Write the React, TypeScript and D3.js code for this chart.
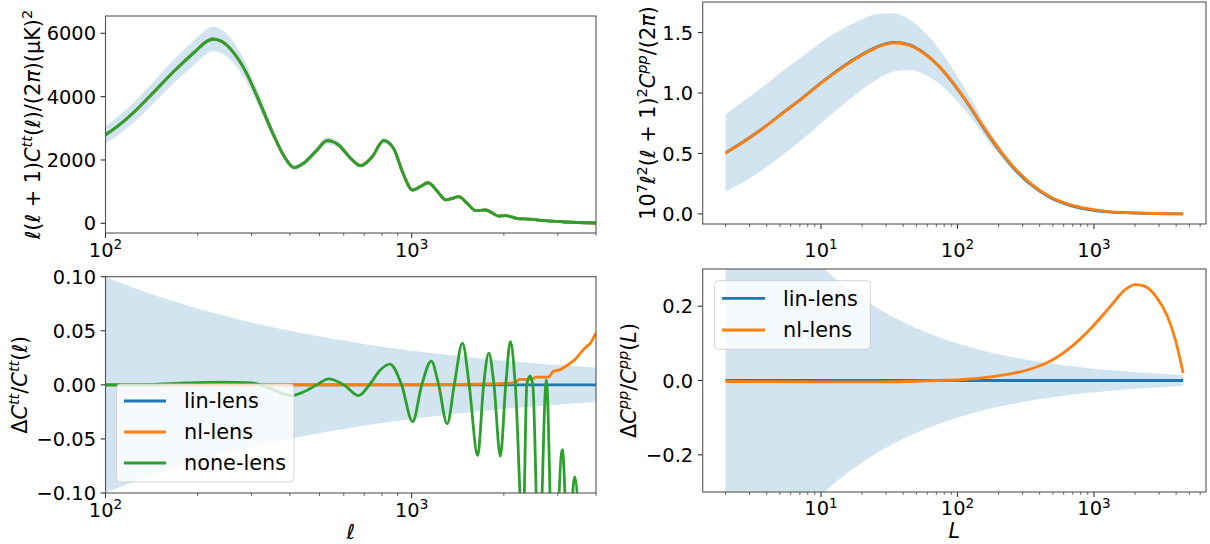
import React from 'react';
import * as d3 from 'd3';

// Lensed temperature spectrum D_ell = ell(ell+1)C_ell/2pi in muK^2
const TT_ELL = [100,109,126,146,169,196,214,224,240,263,287,313,352,384,413,444,485,530,578,632,681,743,810,872,937,1006,1067,1131,1216,1292,1360,1424,1518,1619,1680,1746,1830,1919,2034,2120,2221,2354,2727,3158,4000];
const TT_DL = [2790,3050,3580,4210,4840,5420,5740,5820,5740,5370,4790,4000,2840,2100,1760,1900,2260,2610,2470,2050,1820,2100,2610,2370,1580,1050,1160,1280,1000,740,790,840,630,400,410,420,330,230,240,200,150,137,84,42,10];
// Fractional cosmic-variance half width at each TT multipole
const TT_SIGMA = [0.0998,0.0956,0.0889,0.0826,0.0768,0.0713,0.0683,0.0667,0.0645,0.0616,0.0590,0.0565,0.0533,0.0510,0.0492,0.0474,0.0454,0.0434,0.0416,0.0398,0.0383,0.0367,0.0351,0.0339,0.0327,0.0315,0.0306,0.0297,0.0287,0.0278,0.0271,0.0265,0.0257,0.0249,0.0244,0.0239,0.0234,0.0228,0.0222,0.0217,0.0212,0.0206,0.0191,0.0178,0.0158];

// Fractional TT differences relative to lin-lens
const LIN_TT_ELL = [100, 4000];
const LIN_TT_DELTA = [0, 0];
const NL_TT_ELL = [100,1000,1500,1900,2100,2180,2240,2430,2560,2810,2895,3060,3250,3420,3650,3840,4000];
const NL_TT_DELTA = [0,0,0.0005,0.001,0.0015,0.002,0.005,0.005,0.0072,0.0072,0.0125,0.014,0.0188,0.0235,0.033,0.0386,0.048];
const NONE_TT_ELL = [100,140,183,240,302,350,403,440,490,535,601,670,728,791,849,927,1007,1079,1159,1225,1306,1378,1465,1541,1643,1718,1786,1857,1948,2029,2102,2180,2310,2377,2436,2487,2604,2754,2905,3104,3249,3404,3700,4000];
const NONE_TT_DELTA = [0,0.0005,0.0018,0.0025,0.0018,-0.004,-0.010,-0.007,0,0.0056,0,-0.0099,0,0.0139,0.0191,0,-0.034,0,0.022,0,-0.036,0,0.0386,0,-0.0654,0,0.0293,0,-0.066,0,0.040,0,-0.14,0,0.0083,0,-0.17,0.0046,-0.20,-0.060,-0.16,-0.085,-0.25,-0.3];

// Lensing potential spectrum 10^7 L^2(L+1)^2 C_L^pp / 2pi
const PP_L = [2,2.73,3.78,5.22,7.21,9.96,13.8,19,26.2,34,44,57,73.8,95.5,124,160,208,269,348,481,665,919,1268,2423,4500];
const PP_LIN = [0.504,0.601,0.711,0.834,0.954,1.083,1.202,1.304,1.386,1.419,1.400,1.331,1.217,1.064,0.883,0.689,0.509,0.357,0.239,0.133,0.071,0.036,0.016,0.0044,0.001];
const PP_NL = [0.503,0.599,0.709,0.832,0.951,1.080,1.198,1.300,1.382,1.415,1.396,1.327,1.217,1.066,0.887,0.695,0.516,0.365,0.247,0.140,0.077,0.041,0.019,0.0055,0.001];
const PP_SIGMA = [0.632,0.556,0.483,0.418,0.360,0.309,0.264,0.226,0.194,0.170,0.150,0.132,0.116,0.102,0.0896,0.0789,0.0693,0.0609,0.0536,0.0456,0.0388,0.0330,0.0281,0.0203,0.0149];

// Fractional pp differences relative to lin-lens
const LIN_PP_L = [2, 4500];
const LIN_PP_DELTA = [0, 0];
const NL_PP_L = [2,10,26.7,50,70.6,104,187,259,357,495,684,948,1309,1700,1997,2349,2857,3467,3950,4500];
const NL_PP_DELTA = [-0.0027,-0.0035,-0.0036,-0.002,0,0.002,0.011,0.0196,0.033,0.055,0.091,0.140,0.198,0.245,0.258,0.254,0.225,0.171,0.109,0.020];

const TT_YTICKS = [0, 2000, 4000, 6000];
const DTT_YTICKS = [-0.1, -0.05, 0, 0.05, 0.1];
const PP_YTICKS = [0, 0.5, 1.0, 1.5];
const DPP_YTICKS = [-0.2, 0, 0.2];

const SERIES = ['lin-lens', 'nl-lens', 'none-lens'];
const COLORS = ['#1f77b4', '#ff7f0e', '#2ca02c'];

const W = 1210;
const H = 544;
const FONT = "'DejaVu Sans', sans-serif";
const FS = 19.4; // tick labels
const LFS = 20.8; // axis labels and legend
const LW = 2.8;
const SPINE = '#555';

type Seg = [string, string?];

function MathText({ segs, fs = FS, ...rest }: { segs: Seg[]; fs?: number; [k: string]: any }) {
  let up = false;
  const raise = 0.38 * fs;
  return (
    <text fontFamily={FONT} fontSize={fs} fill="#000" style={{ whiteSpace: 'pre' }} {...rest}>
      {segs.map(([t, f = ''], i) => {
        const sup = f.includes('s');
        let dy: number | undefined;
        if (sup && !up) { dy = -raise; up = true; }
        else if (!sup && up) { dy = raise; up = false; }
        return (
          <tspan key={i} dy={dy} fontStyle={f.includes('i') ? 'italic' : undefined} fontSize={sup ? fs * 0.7 : undefined}>
            {t}
          </tspan>
        );
      })}
    </text>
  );
}

type Box = { l: number; r: number; t: number; b: number };

function logMajor(domain: number[]) {
  const out: number[] = [];
  for (let k = Math.floor(Math.log10(domain[0])); k <= Math.ceil(Math.log10(domain[1])); k++) {
    const v = Math.pow(10, k);
    if (v >= domain[0] * 0.9999 && v <= domain[1] * 1.0001) out.push(v);
  }
  return out;
}

function logMinor(domain: number[]) {
  const out: number[] = [];
  for (let k = Math.floor(Math.log10(domain[0])); k <= Math.ceil(Math.log10(domain[1])); k++) {
    for (let d = 2; d <= 9; d++) {
      const v = d * Math.pow(10, k);
      if (v >= domain[0] && v <= domain[1] * 1.0001) out.push(v);
    }
  }
  return out;
}

function Frame({ b, xs, ys, yTicks, yFmt, xLabelY }: any) {
  const dom = xs.domain();
  return (
    <g>
      {yTicks.map((v: number) => (
        <g key={'y' + v}>
          <line x1={b.l - 4.9} x2={b.l} y1={ys(v)} y2={ys(v)} stroke="#333" strokeWidth={1.1} />
          <text x={b.l - 9.5} y={ys(v) + 0.3645 * FS} textAnchor="end" fontFamily={FONT} fontSize={FS}>
            {yFmt(v)}
          </text>
        </g>
      ))}
      {logMinor(dom).map((v: number) => (
        <line key={'m' + v} x1={xs(v)} x2={xs(v)} y1={b.b} y2={b.b + 2.8} stroke="#333" strokeWidth={0.8} />
      ))}
      {logMajor(dom).map((v: number) => (
        <g key={'x' + v}>
          <line x1={xs(v)} x2={xs(v)} y1={b.b} y2={b.b + 4.9} stroke="#333" strokeWidth={1.1} />
          <MathText x={xs(v)} y={xLabelY} textAnchor="middle" segs={[['10'], [String(Math.round(Math.log10(v))), 's']]} />
        </g>
      ))}
      <rect x={b.l} y={b.t} width={b.r - b.l} height={b.b - b.t} fill="none" stroke={SPINE} strokeWidth={1.1} />
    </g>
  );
}

function Legend({ x, y, w, h, rows, hx0, hx1, tx }: any) {
  return (
    <g>
      <rect x={x} y={y} width={w} height={h} rx={4} fill="#fff" fillOpacity={0.8} stroke="#ccc" strokeOpacity={0.8} strokeWidth={1} />
      {rows.map((r: any) => (
        <g key={r.label}>
          <line x1={hx0} x2={hx1} y1={r.cy} y2={r.cy} stroke={r.color} strokeWidth={LW} />
          <text x={tx} y={r.cy + 0.36 * LFS} fontFamily={FONT} fontSize={LFS}>{r.label}</text>
        </g>
      ))}
    </g>
  );
}

function pairs(a: number[], b: number[]): [number, number][] {
  return a.map((v, i) => [v, b[i]]);
}

export default function App() {
  const TL: Box = { l: 105.5, r: 596, t: 16, b: 233 };
  const BL: Box = { l: 105.5, r: 596, t: 276.7, b: 493 };
  const TR: Box = { l: 702.7, r: 1206, t: 2, b: 224 };
  const BR: Box = { l: 702.7, r: 1206, t: 269, b: 492 };

  // temperature panels share the multipole axis
  const xTT = d3.scaleLog().domain([100, 4000]).range([TL.l, TL.r]);
  const yTT = d3.scaleLinear().domain([-306, 6546]).range([TL.b, TL.t]);
  const xDTT = d3.scaleLog().domain([100, 4000]).range([BL.l, BL.r]);
  const yDTT = d3.scaleLinear().domain([-0.1, 0.1]).range([BL.b, BL.t]);

  // lensing panels: 5% log margin around the data range
  const lo = Math.log10(d3.min(PP_L) as number);
  const hi = Math.log10(d3.max(PP_L) as number);
  const m = 0.05 * (hi - lo);
  const ppDomain = [Math.pow(10, lo - m), Math.pow(10, hi + m)];
  const xPP = d3.scaleLog().domain(ppDomain).range([TR.l, TR.r]);
  const yPP = d3.scaleLinear().domain([-0.0835, 1.753]).range([TR.b, TR.t]);
  const xDPP = d3.scaleLog().domain(ppDomain).range([BR.l, BR.r]);
  const yDPP = d3.scaleLinear().domain([-0.3, 0.3]).range([BR.b, BR.t]);

  const mkLine = (xs: any, ys: any) =>
    d3.line<[number, number]>().x(d => xs(d[0])).y(d => ys(d[1])).curve(d3.curveMonotoneX);

  const lineTT = mkLine(xTT, yTT);
  const lineDTT = mkLine(xDTT, yDTT);
  const linePP = mkLine(xPP, yPP);
  const lineDPP = mkLine(xDPP, yDPP);
  const lineDTTlin = d3.line<[number, number]>().x(d => xDTT(d[0])).y(d => yDTT(d[1]));

  const ttRows = TT_ELL.map((l, i) => ({ l, d: TT_DL[i], s: TT_SIGMA[i] }));
  const ppRows = PP_L.map((l, i) => ({ l, d: PP_LIN[i], s: PP_SIGMA[i] }));

  const bandTT = d3.area<any>().x(r => xTT(r.l)).y0(r => yTT(r.d * (1 - r.s))).y1(r => yTT(r.d * (1 + r.s))).curve(d3.curveMonotoneX)(ttRows);
  const bandDTT = d3.area<any>().x(r => xDTT(r.l)).y0(r => yDTT(-r.s)).y1(r => yDTT(r.s)).curve(d3.curveMonotoneX)(ttRows);
  const bandPP = d3.area<any>().x(r => xPP(r.l)).y0(r => yPP(r.d * (1 - r.s))).y1(r => yPP(r.d * (1 + r.s))).curve(d3.curveMonotoneX)(ppRows);
  const bandDPP = d3.area<any>().x(r => xDPP(r.l)).y0(r => yDPP(-r.s)).y1(r => yDPP(r.s)).curve(d3.curveMonotoneX)(ppRows);

  const ttData = pairs(TT_ELL, TT_DL);
  const fmt0 = d3.format('d');
  const fmt2 = d3.format('.2f');
  const fmt1 = d3.format('.1f');

  const clip = (id: string, b: Box) => (
    <clipPath id={id}>
      <rect x={b.l} y={b.t} width={b.r - b.l} height={b.b - b.t} />
    </clipPath>
  );

  const path = (d: string | null, color: string) => (
    <path d={d || ''} fill="none" stroke={color} strokeWidth={LW} strokeLinejoin="round" strokeLinecap="butt" />
  );

  return (
    <svg width={W} height={H} style={{ position: 'absolute', left: 0, top: 0, background: '#fff' }} fontFamily={FONT}>
      <defs>
        {clip('cTL', TL)}
        {clip('cBL', BL)}
        {clip('cTR', TR)}
        {clip('cBR', BR)}
      </defs>

      {/* temperature spectrum */}
      <g clipPath="url(#cTL)">
        <path d={bandTT || ''} fill={COLORS[0]} fillOpacity={0.2} />
        {path(lineTT(ttData), COLORS[0])}
        {path(lineTT(ttData), COLORS[1])}
        {path(lineTT(ttData), COLORS[2])}
      </g>
      <Frame b={TL} xs={xTT} ys={yTT} yTicks={TT_YTICKS} yFmt={fmt0} xLabelY={TL.b + 23.7} />
      <MathText
        fs={LFS}
        transform={`translate(40, ${(TL.t + TL.b) / 2}) rotate(-90)`}
        textAnchor="middle"
        segs={[['ℓ', 'i'], ['('], ['ℓ', 'i'], [' + 1)'], ['C', 'i'], ['tt', 'is'], ['('], ['ℓ', 'i'], [')/(2'], ['π', 'i'], [')(μK)'], ['2', 's']]}
      />

      {/* fractional temperature differences */}
      <g clipPath="url(#cBL)">
        <path d={bandDTT || ''} fill={COLORS[0]} fillOpacity={0.2} />
        {path(lineDTTlin(pairs(LIN_TT_ELL, LIN_TT_DELTA)), COLORS[0])}
        {path(lineDTTlin(pairs(NL_TT_ELL, NL_TT_DELTA)), COLORS[1])}
        {path(lineDTT(pairs(NONE_TT_ELL, NONE_TT_DELTA)), COLORS[2])}
      </g>
      <Frame b={BL} xs={xDTT} ys={yDTT} yTicks={DTT_YTICKS} yFmt={fmt2} xLabelY={BL.b + 23.7} />
      <MathText
        fs={LFS}
        transform={`translate(27, ${(BL.t + BL.b) / 2}) rotate(-90)`}
        textAnchor="middle"
        segs={[['Δ'], ['C', 'i'], ['tt', 'is'], ['/'], ['C', 'i'], ['tt', 'is'], ['('], ['ℓ', 'i'], [')']]}
      />
      <MathText fs={LFS} x={(BL.l + BL.r) / 2} y={539} textAnchor="middle" segs={[['ℓ', 'i']]} />
      <Legend
        x={116.5} y={384} w={177.5} h={98}
        hx0={124} hx1={166} tx={184}
        rows={SERIES.map((s, i) => ({ label: s, color: COLORS[i], cy: 401 + i * 31 }))}
      />

      {/* lensing potential spectrum */}
      <g clipPath="url(#cTR)">
        <path d={bandPP || ''} fill={COLORS[0]} fillOpacity={0.2} />
        {path(linePP(pairs(PP_L, PP_LIN)), COLORS[0])}
        {path(linePP(pairs(PP_L, PP_NL)), COLORS[1])}
      </g>
      <Frame b={TR} xs={xPP} ys={yPP} yTicks={PP_YTICKS} yFmt={fmt1} xLabelY={TR.b + 32.7} />
      <MathText
        fs={LFS}
        transform={`translate(655, ${(TR.t + TR.b) / 2}) rotate(-90)`}
        textAnchor="middle"
        segs={[['10'], ['7', 's'], ['ℓ', 'i'], ['2', 's'], ['('], ['ℓ', 'i'], [' + 1)'], ['2', 's'], ['C', 'i'], ['pp', 'is'], ['/(2'], ['π', 'i'], [')']]}
      />

      {/* fractional lensing differences */}
      <g clipPath="url(#cBR)">
        <path d={bandDPP || ''} fill={COLORS[0]} fillOpacity={0.2} />
        {path(lineDPP(pairs(LIN_PP_L, LIN_PP_DELTA)), COLORS[0])}
        {path(lineDPP(pairs(NL_PP_L, NL_PP_DELTA)), COLORS[1])}
      </g>
      <Frame b={BR} xs={xDPP} ys={yDPP} yTicks={DPP_YTICKS} yFmt={fmt1} xLabelY={BR.b + 23.3} />
      <MathText
        fs={LFS}
        transform={`translate(636, ${(BR.t + BR.b) / 2}) rotate(-90)`}
        textAnchor="middle"
        segs={[['Δ'], ['C', 'i'], ['pp', 'is'], ['/'], ['C', 'i'], ['pp', 'is'], ['('], ['L', 'i'], [')']]}
      />
      <MathText fs={LFS} x={(BR.l + BR.r) / 2} y={538} textAnchor="middle" segs={[['L', 'i']]} />
      <Legend
        x={714.6} y={280.7} w={155.8} h={68.6}
        hx0={722} hx1={765} tx={783}
        rows={SERIES.slice(0, 2).map((s, i) => ({ label: s, color: COLORS[i], cy: 298.3 + i * 31.7 }))}
      />
    </svg>
  );
}
